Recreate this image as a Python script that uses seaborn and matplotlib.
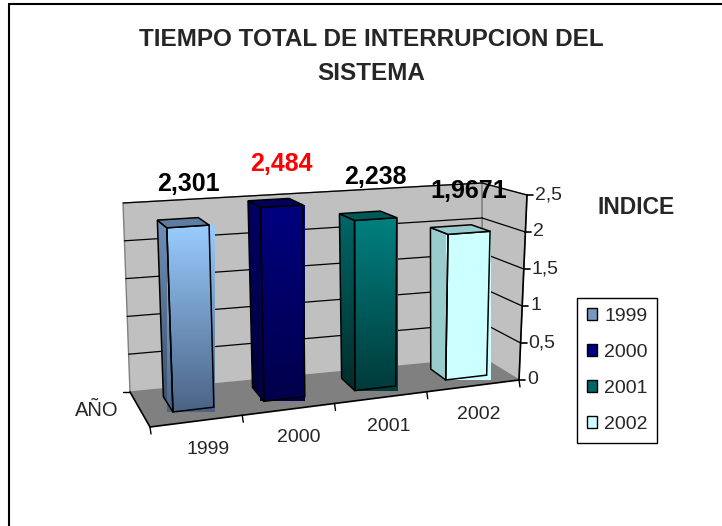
import numpy as np
import pandas as pd
import matplotlib
matplotlib.use('Agg')
import matplotlib.pyplot as plt
import matplotlib.transforms as mtransforms
from matplotlib.patches import Polygon
from matplotlib.colors import LinearSegmentedColormap
import seaborn as sns

# Data
years = ['1999', '2000', '2001', '2002']
indice = [2.301, 2.484, 2.238, 1.9671]
label_colors = ['black', 'red', 'black', 'black']
y_ticks = [0, 0.5, 1, 1.5, 2, 2.5]

# Colours (front face gradient, side face gradient, top face, legend key)
front_top = ['#99CCFF', '#000080', '#008080', '#CCFFFF']
front_bottom = ['#4A6384', '#00004A', '#003A3A', '#CCFFFF']
side_top = ['#7090B8', '#000066', '#006666', '#99CCCC']
side_bottom = ['#3A4E68', '#000038', '#002C2C', '#99CCCC']
top_face = ['#5E7CA0', '#00005A', '#005858', '#99CCCC']
legend_colors = ['#7898C0', '#000080', '#006666', '#CCFFFF']

# 3D box "camera": pixel positions of the 8 box corners, [depth][value][category]
CORNERS = np.array([
    [[(150, 427), (519, 380)], [(142, 219), (527, 195)]],
    [[(130, 392), (483, 358)], [(123, 203), (482, 183)]],
], dtype=float)
U_MIN, U_MAX, V_MAX = -0.5, 3.5, 2.5
D_FRONT, D_BACK = 0.33, 0.78
BAR_SHIFT = 0.05


def project(u, v, d):
    u, v, d = np.broadcast_arrays(np.asarray(u, float), np.asarray(v, float), np.asarray(d, float))
    s = ((u - U_MIN) / (U_MAX - U_MIN))[..., None]
    t = (v / V_MAX)[..., None]
    dd = d[..., None]

    def plane(k):
        c = CORNERS[k]
        return (1 - t) * ((1 - s) * c[0, 0] + s * c[0, 1]) + t * ((1 - s) * c[1, 0] + s * c[1, 1])

    return (1 - dd) * plane(0) + dd * plane(1)


class BoxProjection(mtransforms.Transform):
    input_dims = 2
    output_dims = 2

    def __init__(self, plane_depth, shift=0.0):
        super().__init__()
        self.plane_depth = plane_depth
        self.shift = shift

    def transform_non_affine(self, values):
        values = np.asarray(values, float)
        return project(values[:, 0] + self.shift, values[:, 1], self.plane_depth)


sns.set_style('white')
plt.rcParams['font.family'] = ['Liberation Sans', 'DejaVu Sans']

fig = plt.figure(figsize=(7.22, 5.26), dpi=100)
ax = fig.add_axes([0, 0, 1, 1])

df = pd.DataFrame({'year': years, 'indice': indice})
sns.barplot(data=df, x='year', y='indice', hue='year', palette=front_top,
            width=0.45, saturation=1, edgecolor='black', linewidth=1.1,
            ax=ax, legend=True)
bars = [b for c in ax.containers for b in c
        if np.isfinite(b.get_height()) and b.get_height() > 0]
bars.sort(key=lambda b: b.get_x())


def add_poly(pts, **kw):
    p = Polygon(np.asarray(pts), closed=True, **kw)
    ax.add_patch(p)
    return p


def gradient_fill(clip, pts, c_top, c_bot, z):
    pts = np.asarray(pts)
    x0, x1 = pts[:, 0].min(), pts[:, 0].max()
    y0, y1 = pts[:, 1].min(), pts[:, 1].max()
    cmap = LinearSegmentedColormap.from_list('g', [c_top, c_bot])
    grad = np.linspace(0, 1, 256).reshape(-1, 1)
    im = ax.imshow(grad, cmap=cmap, extent=(x0, x1, y1, y0), origin='upper',
                   aspect='auto', interpolation='bilinear', zorder=z)
    im.set_clip_path(clip)


# Walls and floor
back = project([U_MIN, U_MAX, U_MAX, U_MIN], [0, 0, V_MAX, V_MAX], 1)
add_poly(back, facecolor='#C0C0C0', edgecolor='#808080', lw=1, zorder=0)
side = project(U_MAX, [0, 0, V_MAX, V_MAX], [1, 0, 0, 1])
add_poly(side, facecolor='#C0C0C0', edgecolor='#808080', lw=1, zorder=0)
floor = project([U_MIN, U_MAX, U_MAX, U_MIN], 0, [0, 0, 1, 1])
add_poly(floor, facecolor='#808080', edgecolor='none', zorder=0.2)

# Gridlines on back and side walls
for v in y_ticks[1:]:
    p = project([U_MIN, U_MAX], v, 1)
    ax.plot(p[:, 0], p[:, 1], color='black', lw=0.9, zorder=0.5)
    p = project(U_MAX, v, [1, 0])
    ax.plot(p[:, 0], p[:, 1], color='black', lw=0.9, zorder=0.5)

# Floor edges (category and depth axes)
p = project([U_MIN, U_MAX], 0, 0)
ax.plot(p[:, 0], p[:, 1], color='black', lw=1.2, zorder=1)
p = project(U_MIN, 0, [1, 0])
ax.plot(p[:, 0], p[:, 1], color='black', lw=1.2, zorder=1)
p = project(U_MIN, 0, 1)
ax.plot([p[0] - 7, p[0]], [p[1], p[1]], color='black', lw=1, zorder=1)
for u in np.arange(U_MIN, U_MAX + 0.5, 1.0):
    p = project(u, 0, 0)
    ax.plot([p[0], p[0] + 1], [p[1], p[1] + 7], color='black', lw=1, zorder=1)
for i, yr in enumerate(years):
    p = project(i, 0, 0)
    ax.text(p[0] + 12 - 2 * i, p[1] + 28.5, yr, ha='center', va='center', fontsize=14)

# Value axis at the front right edge
p = project(U_MAX, [0, V_MAX], 0)
ax.plot(p[:, 0], p[:, 1], color='black', lw=1.2, zorder=1)
for v in y_ticks:
    p = project(U_MAX, v, 0)
    ax.plot([p[0], p[0] + 6], [p[1], p[1]], color='black', lw=1.2, zorder=1)
    ax.text(p[0] + 8, p[1], f'{v:g}'.replace('.', ','), ha='left', va='center', fontsize=14)

# 3D bars: seaborn bars become the front faces, sides and tops derived from them
for i, bar in enumerate(bars):
    x0 = bar.get_x() + BAR_SHIFT
    x1 = x0 + bar.get_width()
    h = bar.get_height()
    bar.set_transform(BoxProjection(D_FRONT, BAR_SHIFT) + ax.transData)
    bar.set_facecolor('none')
    bar.set_zorder(3)
    front_pts = project([x0, x1, x1, x0], [0, 0, h, h], D_FRONT)
    gradient_fill(bar, front_pts, front_top[i], front_bottom[i], 2.5)

    side_pts = project(x0, [0, h, h, 0], [D_FRONT, D_FRONT, D_BACK, D_BACK])
    sp = add_poly(side_pts, facecolor='none', edgecolor='black', lw=1.1, zorder=3)
    gradient_fill(sp, side_pts, side_top[i], side_bottom[i], 2)
    top_pts = project([x0, x1, x1, x0], h, [D_FRONT, D_FRONT, D_BACK, D_BACK])
    add_poly(top_pts, facecolor=top_face[i], edgecolor='black', lw=1.1, zorder=3)

    c = project((x0 + x1) / 2, h, D_FRONT)
    ax.text(c[0], c[1] - 42, f'{indice[i]}'.replace('.', ','), ha='center', va='center',
            fontsize=18, fontweight='bold', color=label_colors[i], zorder=4)

# Texts
ax.text(371, 46.5, 'TIEMPO TOTAL DE INTERRUPCION DEL', ha='center', va='baseline',
        fontsize=17.5, fontweight='bold')
ax.text(371, 79.5, 'SISTEMA', ha='center', va='baseline', fontsize=17.5, fontweight='bold')
ax.text(636, 208, 'INDICE', ha='center', va='center', fontsize=16.5, fontweight='bold')
ax.text(97, 410, 'AÑO', ha='center', va='center', fontsize=14.5)

# Outer frame (top and left edges only)
ax.plot([9, 722], [4, 4], color='black', lw=1.5, zorder=5)
ax.plot([9, 9], [4, 526], color='black', lw=1.5, zorder=5)

ax.set_xlim(0, 722)
ax.set_ylim(526, 0)
ax.axis('off')

sns.move_legend(ax, 'upper left', bbox_to_anchor=(577, 298), bbox_transform=ax.transData,
                title=None, frameon=True, fontsize=14, handlelength=0.55, handleheight=0.55,
                handletextpad=0.35, labelspacing=0.98, borderpad=0.5, borderaxespad=0,
                fancybox=False, edgecolor='black', framealpha=1)
leg = ax.get_legend()
leg.get_frame().set_linewidth(1)
for hnd, col in zip(leg.legend_handles, legend_colors):
    hnd.set_facecolor(col)
    hnd.set_edgecolor('black')
    hnd.set_linewidth(1)

fig.savefig('out.png', dpi=100, facecolor='white')
